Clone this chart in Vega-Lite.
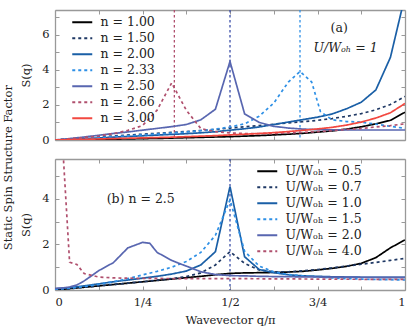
{
  "$schema": "https://vega.github.io/schema/vega-lite/v6.json",
  "padding": {"left": 3, "top": 9, "right": 7, "bottom": 4},
  "title": {"text": "Static Spin Structure Factor", "orient": "left", "anchor": "middle", "font": "DejaVu Serif", "fontSize": 11.5, "fontWeight": "normal", "color": "#222", "offset": 6},
  "config": {
    "view": {"stroke": null},
    "font": "DejaVu Serif",
    "axis": {"grid": false, "domainColor": "#999", "domainWidth": 1.3, "tickColor": "#999", "tickSize": -4, "tickWidth": 1, "labelFont": "DejaVu Serif", "labelFontSize": 11.5, "labelColor": "#222", "labelPadding": 10, "titleFont": "DejaVu Serif", "titleFontSize": 11.5, "titleFontWeight": "normal", "titleColor": "#222"},
    "legend": {"orient": "none", "title": null, "symbolType": "M-2,0H2", "symbolSize": 100, "symbolStrokeWidth": 1.8, "symbolFillColor": "transparent", "labelFont": "DejaVu Serif", "labelFontSize": 12.5, "labelColor": "#222", "rowPadding": 3, "labelOffset": 12, "padding": 0}
  },
  "datasets": {
    "a": [
      {"n":"1.00","q":0,"S":0},{"n":"1.00","q":0.0417,"S":0.01},{"n":"1.00","q":0.0833,"S":0.02},{"n":"1.00","q":0.125,"S":0.03},{"n":"1.00","q":0.1667,"S":0.05},{"n":"1.00","q":0.2083,"S":0.06},{"n":"1.00","q":0.25,"S":0.08},{"n":"1.00","q":0.2917,"S":0.09},{"n":"1.00","q":0.3333,"S":0.11},{"n":"1.00","q":0.375,"S":0.13},{"n":"1.00","q":0.4167,"S":0.15},{"n":"1.00","q":0.4583,"S":0.17},{"n":"1.00","q":0.5,"S":0.19},{"n":"1.00","q":0.5417,"S":0.22},{"n":"1.00","q":0.5833,"S":0.25},{"n":"1.00","q":0.625,"S":0.29},{"n":"1.00","q":0.6667,"S":0.33},{"n":"1.00","q":0.7083,"S":0.38},{"n":"1.00","q":0.75,"S":0.45},{"n":"1.00","q":0.7917,"S":0.52},{"n":"1.00","q":0.8333,"S":0.62},{"n":"1.00","q":0.875,"S":0.75},{"n":"1.00","q":0.9167,"S":0.92},{"n":"1.00","q":0.9583,"S":1.12},{"n":"1.00","q":1,"S":1.58},
      {"n":"1.50","q":0,"S":0},{"n":"1.50","q":0.0417,"S":0.06},{"n":"1.50","q":0.0833,"S":0.12},{"n":"1.50","q":0.125,"S":0.18},{"n":"1.50","q":0.1667,"S":0.23},{"n":"1.50","q":0.2083,"S":0.28},{"n":"1.50","q":0.25,"S":0.33},{"n":"1.50","q":0.2917,"S":0.38},{"n":"1.50","q":0.3333,"S":0.43},{"n":"1.50","q":0.375,"S":0.48},{"n":"1.50","q":0.4167,"S":0.54},{"n":"1.50","q":0.4583,"S":0.6},{"n":"1.50","q":0.5,"S":0.68},{"n":"1.50","q":0.5417,"S":0.75},{"n":"1.50","q":0.5833,"S":0.82},{"n":"1.50","q":0.625,"S":0.9},{"n":"1.50","q":0.6667,"S":0.97},{"n":"1.50","q":0.7083,"S":1.04},{"n":"1.50","q":0.75,"S":1.12},{"n":"1.50","q":0.7917,"S":1.22},{"n":"1.50","q":0.8333,"S":1.35},{"n":"1.50","q":0.875,"S":1.5},{"n":"1.50","q":0.9167,"S":1.72},{"n":"1.50","q":0.9583,"S":2.02},{"n":"1.50","q":1,"S":2.48},
      {"n":"2.00","q":0,"S":0},{"n":"2.00","q":0.0417,"S":0.04},{"n":"2.00","q":0.0833,"S":0.08},{"n":"2.00","q":0.125,"S":0.12},{"n":"2.00","q":0.1667,"S":0.16},{"n":"2.00","q":0.2083,"S":0.2},{"n":"2.00","q":0.25,"S":0.24},{"n":"2.00","q":0.2917,"S":0.28},{"n":"2.00","q":0.3333,"S":0.32},{"n":"2.00","q":0.375,"S":0.36},{"n":"2.00","q":0.4167,"S":0.41},{"n":"2.00","q":0.4583,"S":0.47},{"n":"2.00","q":0.5,"S":0.56},{"n":"2.00","q":0.5417,"S":0.64},{"n":"2.00","q":0.5833,"S":0.74},{"n":"2.00","q":0.625,"S":0.88},{"n":"2.00","q":0.6667,"S":1.02},{"n":"2.00","q":0.7083,"S":1.16},{"n":"2.00","q":0.75,"S":1.3},{"n":"2.00","q":0.7917,"S":1.48},{"n":"2.00","q":0.8333,"S":1.78},{"n":"2.00","q":0.875,"S":2.15},{"n":"2.00","q":0.9167,"S":2.85},{"n":"2.00","q":0.9583,"S":4.7},{"n":"2.00","q":1,"S":8.2},
      {"n":"2.33","q":0,"S":0},{"n":"2.33","q":0.0417,"S":0.04},{"n":"2.33","q":0.0833,"S":0.09},{"n":"2.33","q":0.125,"S":0.14},{"n":"2.33","q":0.1667,"S":0.19},{"n":"2.33","q":0.2083,"S":0.24},{"n":"2.33","q":0.25,"S":0.29},{"n":"2.33","q":0.2917,"S":0.34},{"n":"2.33","q":0.3333,"S":0.4},{"n":"2.33","q":0.375,"S":0.46},{"n":"2.33","q":0.4167,"S":0.53},{"n":"2.33","q":0.4583,"S":0.62},{"n":"2.33","q":0.5,"S":0.74},{"n":"2.33","q":0.5417,"S":0.92},{"n":"2.33","q":0.5833,"S":1.35},{"n":"2.33","q":0.625,"S":2.1},{"n":"2.33","q":0.6667,"S":3.3},{"n":"2.33","q":0.7,"S":3.9},{"n":"2.33","q":0.7333,"S":3.3},{"n":"2.33","q":0.7583,"S":1.62},{"n":"2.33","q":0.7917,"S":1.15},{"n":"2.33","q":0.8333,"S":1.05},{"n":"2.33","q":0.875,"S":1.02},{"n":"2.33","q":0.9167,"S":0.9},{"n":"2.33","q":0.9583,"S":0.78},{"n":"2.33","q":1,"S":0.66},
      {"n":"2.50","q":0,"S":0},{"n":"2.50","q":0.0417,"S":0.08},{"n":"2.50","q":0.0833,"S":0.17},{"n":"2.50","q":0.125,"S":0.27},{"n":"2.50","q":0.1667,"S":0.37},{"n":"2.50","q":0.2083,"S":0.46},{"n":"2.50","q":0.25,"S":0.56},{"n":"2.50","q":0.2917,"S":0.66},{"n":"2.50","q":0.3333,"S":0.76},{"n":"2.50","q":0.375,"S":0.88},{"n":"2.50","q":0.4167,"S":1.15},{"n":"2.50","q":0.4583,"S":1.75},{"n":"2.50","q":0.5,"S":4.47},{"n":"2.50","q":0.5417,"S":1.49},{"n":"2.50","q":0.5833,"S":1.0},{"n":"2.50","q":0.625,"S":0.78},{"n":"2.50","q":0.6667,"S":0.68},{"n":"2.50","q":0.7083,"S":0.62},{"n":"2.50","q":0.75,"S":0.59},{"n":"2.50","q":0.7917,"S":0.58},{"n":"2.50","q":0.8333,"S":0.57},{"n":"2.50","q":0.875,"S":0.57},{"n":"2.50","q":0.9167,"S":0.57},{"n":"2.50","q":0.9583,"S":0.57},{"n":"2.50","q":1,"S":0.57},
      {"n":"2.66","q":0,"S":0},{"n":"2.66","q":0.0417,"S":0.07},{"n":"2.66","q":0.0833,"S":0.14},{"n":"2.66","q":0.125,"S":0.22},{"n":"2.66","q":0.1667,"S":0.36},{"n":"2.66","q":0.2083,"S":0.55},{"n":"2.66","q":0.25,"S":0.82},{"n":"2.66","q":0.2917,"S":1.7},{"n":"2.66","q":0.3333,"S":3.25},{"n":"2.66","q":0.375,"S":1.7},{"n":"2.66","q":0.4167,"S":0.65},{"n":"2.66","q":0.4583,"S":0.47},{"n":"2.66","q":0.5,"S":0.4},{"n":"2.66","q":0.5417,"S":0.37},{"n":"2.66","q":0.5833,"S":0.36},{"n":"2.66","q":0.625,"S":0.37},{"n":"2.66","q":0.6667,"S":0.4},{"n":"2.66","q":0.7083,"S":0.43},{"n":"2.66","q":0.75,"S":0.48},{"n":"2.66","q":0.7917,"S":0.53},{"n":"2.66","q":0.8333,"S":0.6},{"n":"2.66","q":0.875,"S":0.66},{"n":"2.66","q":0.9167,"S":0.74},{"n":"2.66","q":0.9583,"S":0.82},{"n":"2.66","q":1,"S":0.92},
      {"n":"3.00","q":0,"S":0},{"n":"3.00","q":0.0417,"S":0.02},{"n":"3.00","q":0.0833,"S":0.04},{"n":"3.00","q":0.125,"S":0.06},{"n":"3.00","q":0.1667,"S":0.08},{"n":"3.00","q":0.2083,"S":0.1},{"n":"3.00","q":0.25,"S":0.12},{"n":"3.00","q":0.2917,"S":0.14},{"n":"3.00","q":0.3333,"S":0.16},{"n":"3.00","q":0.375,"S":0.19},{"n":"3.00","q":0.4167,"S":0.22},{"n":"3.00","q":0.4583,"S":0.25},{"n":"3.00","q":0.5,"S":0.29},{"n":"3.00","q":0.5417,"S":0.33},{"n":"3.00","q":0.5833,"S":0.37},{"n":"3.00","q":0.625,"S":0.42},{"n":"3.00","q":0.6667,"S":0.48},{"n":"3.00","q":0.7083,"S":0.55},{"n":"3.00","q":0.75,"S":0.63},{"n":"3.00","q":0.7917,"S":0.72},{"n":"3.00","q":0.8333,"S":0.85},{"n":"3.00","q":0.875,"S":1.02},{"n":"3.00","q":0.9167,"S":1.25},{"n":"3.00","q":0.9583,"S":1.55},{"n":"3.00","q":1,"S":2.08}
    ],
    "b": [
      {"U":"0.5","q":0,"S":0},{"U":"0.5","q":0.0417,"S":0.06},{"U":"0.5","q":0.0833,"S":0.12},{"U":"0.5","q":0.125,"S":0.18},{"U":"0.5","q":0.1667,"S":0.24},{"U":"0.5","q":0.2083,"S":0.3},{"U":"0.5","q":0.25,"S":0.36},{"U":"0.5","q":0.2917,"S":0.42},{"U":"0.5","q":0.3333,"S":0.48},{"U":"0.5","q":0.375,"S":0.54},{"U":"0.5","q":0.4167,"S":0.6},{"U":"0.5","q":0.4583,"S":0.67},{"U":"0.5","q":0.5,"S":0.73},{"U":"0.5","q":0.5417,"S":0.75},{"U":"0.5","q":0.5833,"S":0.76},{"U":"0.5","q":0.625,"S":0.77},{"U":"0.5","q":0.6667,"S":0.79},{"U":"0.5","q":0.7083,"S":0.82},{"U":"0.5","q":0.75,"S":0.88},{"U":"0.5","q":0.7917,"S":0.95},{"U":"0.5","q":0.8333,"S":1.04},{"U":"0.5","q":0.875,"S":1.17},{"U":"0.5","q":0.9167,"S":1.42},{"U":"0.5","q":0.9583,"S":1.85},{"U":"0.5","q":1,"S":2.2},
      {"U":"0.7","q":0,"S":0},{"U":"0.7","q":0.0417,"S":0.06},{"U":"0.7","q":0.0833,"S":0.12},{"U":"0.7","q":0.125,"S":0.18},{"U":"0.7","q":0.1667,"S":0.24},{"U":"0.7","q":0.2083,"S":0.3},{"U":"0.7","q":0.25,"S":0.36},{"U":"0.7","q":0.2917,"S":0.43},{"U":"0.7","q":0.3333,"S":0.5},{"U":"0.7","q":0.375,"S":0.59},{"U":"0.7","q":0.4167,"S":0.75},{"U":"0.7","q":0.4583,"S":1.1},{"U":"0.7","q":0.5,"S":1.68},{"U":"0.7","q":0.5417,"S":1.17},{"U":"0.7","q":0.5833,"S":0.88},{"U":"0.7","q":0.625,"S":0.8},{"U":"0.7","q":0.6667,"S":0.8},{"U":"0.7","q":0.7083,"S":0.84},{"U":"0.7","q":0.75,"S":0.9},{"U":"0.7","q":0.7917,"S":0.97},{"U":"0.7","q":0.8333,"S":1.05},{"U":"0.7","q":0.875,"S":1.13},{"U":"0.7","q":0.9167,"S":1.21},{"U":"0.7","q":0.9583,"S":1.3},{"U":"0.7","q":1,"S":1.39},
      {"U":"1.0","q":0,"S":0.05},{"U":"1.0","q":0.0417,"S":0.1},{"U":"1.0","q":0.0833,"S":0.18},{"U":"1.0","q":0.125,"S":0.27},{"U":"1.0","q":0.1667,"S":0.36},{"U":"1.0","q":0.2083,"S":0.44},{"U":"1.0","q":0.25,"S":0.52},{"U":"1.0","q":0.2917,"S":0.6},{"U":"1.0","q":0.3333,"S":0.7},{"U":"1.0","q":0.375,"S":0.83},{"U":"1.0","q":0.4167,"S":1.1},{"U":"1.0","q":0.4583,"S":1.68},{"U":"1.0","q":0.5,"S":4.54},{"U":"1.0","q":0.5417,"S":1.46},{"U":"1.0","q":0.5833,"S":0.9},{"U":"1.0","q":0.625,"S":0.76},{"U":"1.0","q":0.6667,"S":0.67},{"U":"1.0","q":0.7083,"S":0.62},{"U":"1.0","q":0.75,"S":0.6},{"U":"1.0","q":0.7917,"S":0.58},{"U":"1.0","q":0.8333,"S":0.57},{"U":"1.0","q":0.875,"S":0.56},{"U":"1.0","q":0.9167,"S":0.56},{"U":"1.0","q":0.9583,"S":0.55},{"U":"1.0","q":1,"S":0.55},
      {"U":"1.5","q":0,"S":0.03},{"U":"1.5","q":0.0417,"S":0.08},{"U":"1.5","q":0.0833,"S":0.15},{"U":"1.5","q":0.125,"S":0.25},{"U":"1.5","q":0.1667,"S":0.36},{"U":"1.5","q":0.2083,"S":0.5},{"U":"1.5","q":0.25,"S":0.66},{"U":"1.5","q":0.2917,"S":0.82},{"U":"1.5","q":0.3333,"S":1.0},{"U":"1.5","q":0.375,"S":1.25},{"U":"1.5","q":0.4167,"S":1.65},{"U":"1.5","q":0.4583,"S":2.4},{"U":"1.5","q":0.5,"S":3.96},{"U":"1.5","q":0.5417,"S":1.7},{"U":"1.5","q":0.5833,"S":1.05},{"U":"1.5","q":0.625,"S":0.8},{"U":"1.5","q":0.6667,"S":0.68},{"U":"1.5","q":0.7083,"S":0.62},{"U":"1.5","q":0.75,"S":0.57},{"U":"1.5","q":0.7917,"S":0.53},{"U":"1.5","q":0.8333,"S":0.5},{"U":"1.5","q":0.875,"S":0.48},{"U":"1.5","q":0.9167,"S":0.46},{"U":"1.5","q":0.9583,"S":0.45},{"U":"1.5","q":1,"S":0.44},
      {"U":"2.0","q":0,"S":0.07},{"U":"2.0","q":0.0208,"S":0.09},{"U":"2.0","q":0.0417,"S":0.13},{"U":"2.0","q":0.0625,"S":0.22},{"U":"2.0","q":0.0833,"S":0.4},{"U":"2.0","q":0.1042,"S":0.62},{"U":"2.0","q":0.125,"S":0.85},{"U":"2.0","q":0.1667,"S":1.2},{"U":"2.0","q":0.2083,"S":1.85},{"U":"2.0","q":0.25,"S":2.09},{"U":"2.0","q":0.2708,"S":2.05},{"U":"2.0","q":0.2917,"S":1.65},{"U":"2.0","q":0.3333,"S":1.3},{"U":"2.0","q":0.3542,"S":1.17},{"U":"2.0","q":0.375,"S":1.05},{"U":"2.0","q":0.4167,"S":0.8},{"U":"2.0","q":0.4583,"S":0.68},{"U":"2.0","q":0.5,"S":0.63},{"U":"2.0","q":0.5417,"S":0.62},{"U":"2.0","q":0.5833,"S":0.6},{"U":"2.0","q":0.625,"S":0.59},{"U":"2.0","q":0.75,"S":0.57},{"U":"2.0","q":0.875,"S":0.56},{"U":"2.0","q":1,"S":0.55},
      {"U":"4.0","q":0,"S":12},{"U":"4.0","q":0.0417,"S":1.22},{"U":"4.0","q":0.0625,"S":1.12},{"U":"4.0","q":0.0833,"S":0.72},{"U":"4.0","q":0.125,"S":0.57},{"U":"4.0","q":0.1667,"S":0.53},{"U":"4.0","q":0.25,"S":0.51},{"U":"4.0","q":0.375,"S":0.5},{"U":"4.0","q":0.5,"S":0.5},{"U":"4.0","q":0.625,"S":0.49},{"U":"4.0","q":0.75,"S":0.48},{"U":"4.0","q":0.875,"S":0.47},{"U":"4.0","q":1,"S":0.47}
    ]
  },
  "spacing": 12,
  "resolve": {"scale": {"x": "independent", "y": "independent", "color": "independent", "strokeDash": "independent"}},
  "vconcat": [
    {
      "width": 350, "height": 130,
      "resolve": {"axis": {"x": "independent", "y": "independent"}},
      "layer": [
        {"data": {"values": [{}]}, "mark": {"type": "rule", "color": "#b0506e", "strokeDash": [2.5, 2.5], "strokeWidth": 1.3}, "encoding": {"x": {"datum": 0.341, "type": "quantitative", "axis": null}}},
        {"data": {"values": [{}]}, "mark": {"type": "rule", "color": "#3a4ea8", "strokeDash": [2.5, 2.5], "strokeWidth": 1.3}, "encoding": {"x": {"datum": 0.5, "type": "quantitative", "axis": null}}},
        {"data": {"values": [{}]}, "mark": {"type": "rule", "color": "#2e90e6", "strokeDash": [2.5, 2.5], "strokeWidth": 1.3}, "encoding": {"x": {"datum": 0.7, "type": "quantitative", "axis": null}}},
        {
          "data": {"name": "a"},
          "mark": {"type": "line", "clip": true, "strokeWidth": 1.7},
          "encoding": {
            "x": {"field": "q", "type": "quantitative", "scale": {"domain": [0, 1], "nice": false}, "axis": {"values": [0, 0.125, 0.25, 0.375, 0.5, 0.625, 0.75, 0.875, 1], "labels": false, "title": null}},
            "y": {"field": "S", "type": "quantitative", "scale": {"domain": [0, 7.4], "nice": false}, "axis": {"values": [0, 1, 2, 3, 4, 5, 6, 7], "labelExpr": "datum.value % 2 == 0 ? datum.label : ''", "title": "S(q)", "titlePadding": 10}},
            "color": {"field": "n", "type": "nominal", "scale": {"domain": ["1.00", "1.50", "2.00", "2.33", "2.50", "2.66", "3.00"], "range": ["#000000", "#1f3864", "#1a5fa6", "#2e90e6", "#5866b0", "#b0506e", "#f24840"]}, "legend": {"legendX": 21, "legendY": 6, "labelExpr": "'n = ' + datum.label"}},
            "strokeDash": {"field": "n", "type": "nominal", "scale": {"domain": ["1.00", "1.50", "2.00", "2.33", "2.50", "2.66", "3.00"], "range": [[1, 0], [3, 3], [1, 0], [3, 3], [1, 0], [3, 3], [1, 0]]}, "legend": {"legendX": 21, "legendY": 6, "labelExpr": "'n = ' + datum.label"}}
          }
        },
        {"data": {"values": [{}]}, "mark": {"type": "text", "font": "DejaVu Serif", "fontSize": 12.5, "color": "#222"}, "encoding": {"x": {"datum": 0.812, "type": "quantitative", "axis": null}, "y": {"datum": 6.38, "type": "quantitative", "axis": null}, "text": {"value": "(a)"}}},
        {"data": {"values": [{}]}, "mark": {"type": "text", "font": "DejaVu Serif", "fontSize": 12.5, "fontStyle": "italic", "color": "#222"}, "encoding": {"x": {"datum": 0.83, "type": "quantitative", "axis": null}, "y": {"datum": 5.24, "type": "quantitative", "axis": null}, "text": {"value": "U/Wₒₕ = 1"}}},
        {
          "data": {"name": "a"},
          "mark": {"type": "point", "opacity": 0, "clip": true},
          "encoding": {
            "x": {"field": "q", "type": "quantitative", "axis": {"orient": "top", "values": [0, 0.125, 0.25, 0.375, 0.5, 0.625, 0.75, 0.875, 1], "labels": false, "title": null}},
            "y": {"field": "S", "type": "quantitative", "axis": {"orient": "right", "values": [0, 1, 2, 3, 4, 5, 6, 7], "labels": false, "title": null}}
          }
        }
      ]
    },
    {
      "width": 350, "height": 131,
      "resolve": {"axis": {"x": "independent", "y": "independent"}},
      "layer": [
        {"data": {"values": [{}]}, "mark": {"type": "rule", "color": "#3a4ea8", "strokeDash": [2.5, 2.5], "strokeWidth": 1.3}, "encoding": {"x": {"datum": 0.5, "type": "quantitative", "axis": null}}},
        {
          "data": {"name": "b"},
          "mark": {"type": "line", "clip": true, "strokeWidth": 1.7},
          "encoding": {
            "x": {"field": "q", "type": "quantitative", "scale": {"domain": [0, 1], "nice": false}, "axis": {"values": [0, 0.125, 0.25, 0.375, 0.5, 0.625, 0.75, 0.875, 1], "labelExpr": "datum.value == 0 ? '0' : datum.value == 0.25 ? '1/4' : datum.value == 0.5 ? '1/2' : datum.value == 0.75 ? '3/4' : datum.value == 1 ? '1' : ''", "title": "Wavevector q/π", "titlePadding": 7}},
            "y": {"field": "S", "type": "quantitative", "scale": {"domain": [0, 5.75], "nice": false}, "axis": {"values": [0, 1, 2, 3, 4, 5], "labelExpr": "datum.value % 2 == 0 ? datum.label : ''", "title": "S(q)", "titlePadding": 10}},
            "color": {"field": "U", "type": "nominal", "scale": {"domain": ["0.5", "0.7", "1.0", "1.5", "2.0", "4.0"], "range": ["#000000", "#1f3864", "#1a5fa6", "#2e90e6", "#5866b0", "#b0506e"]}, "legend": {"legendX": 206, "legendY": 6, "labelExpr": "'U/Wₒₕ = ' + datum.label"}},
            "strokeDash": {"field": "U", "type": "nominal", "scale": {"domain": ["0.5", "0.7", "1.0", "1.5", "2.0", "4.0"], "range": [[1, 0], [3, 3], [1, 0], [3, 3], [1, 0], [3, 3]]}, "legend": {"legendX": 206, "legendY": 6, "labelExpr": "'U/Wₒₕ = ' + datum.label"}}
          }
        },
        {"data": {"values": [{}]}, "mark": {"type": "text", "font": "DejaVu Serif", "fontSize": 12.5, "color": "#222"}, "encoding": {"x": {"datum": 0.245, "type": "quantitative", "axis": null}, "y": {"datum": 3.98, "type": "quantitative", "axis": null}, "text": {"value": "(b) n = 2.5"}}},
        {
          "data": {"name": "b"},
          "mark": {"type": "point", "opacity": 0, "clip": true},
          "encoding": {
            "x": {"field": "q", "type": "quantitative", "axis": {"orient": "top", "values": [0, 0.125, 0.25, 0.375, 0.5, 0.625, 0.75, 0.875, 1], "labels": false, "title": null}},
            "y": {"field": "S", "type": "quantitative", "axis": {"orient": "right", "values": [0, 1, 2, 3, 4, 5], "labels": false, "title": null}}
          }
        }
      ]
    }
  ]
}
